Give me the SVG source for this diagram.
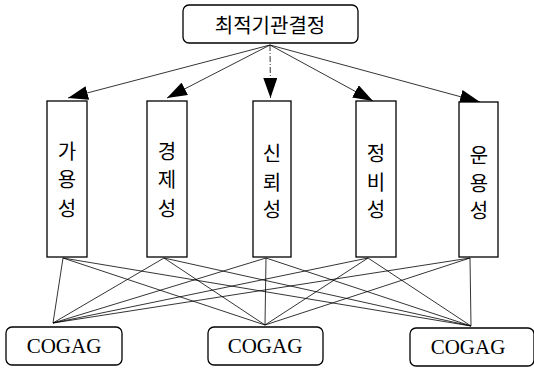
<svg xmlns="http://www.w3.org/2000/svg" width="534" height="368" viewBox="0 0 534 368">
<style>
.box{fill:#fff;stroke:#000;stroke-width:1.3}
.ln{stroke:#000;stroke-width:0.8;fill:none}
.ko{font-family:"Noto Sans CJK KR","Noto Sans",sans-serif;font-size:20px;fill:#000;text-anchor:middle;dominant-baseline:central}
.en{font-family:"Liberation Serif","Times New Roman",serif;font-size:21px;fill:#000;text-anchor:middle;dominant-baseline:central}
</style>
<defs>
<marker id="ah" markerUnits="userSpaceOnUse" markerWidth="22" markerHeight="14" refX="20" refY="7" orient="auto">
<path d="M0,0 L20,7 L0,14 Z" fill="#000"/>
</marker>
</defs>
<rect width="534" height="368" fill="#fff"/>
<g id="connectors">
<line class="ln" x1="270" y1="45" x2="68" y2="98" marker-end="url(#ah)"/>
<line class="ln" x1="270" y1="45" x2="167" y2="98" marker-end="url(#ah)"/>
<line class="ln" x1="270" y1="45" x2="270.5" y2="98" stroke-dasharray="6 2 1 2" marker-end="url(#ah)"/>
<line class="ln" x1="270" y1="45" x2="373" y2="101" marker-end="url(#ah)"/>
<line class="ln" x1="270" y1="45" x2="480" y2="102" marker-end="url(#ah)"/>
<g class="ln">
<path d="M63,258 L53,323 M63,258 L265,325 M63,258 L471,326"/>
<path d="M164,258 L53,323 M164,258 L265,325 M164,258 L471,326"/>
<path d="M266,258 L53,323 M266,258 L265,325 M266,258 L471,326"/>
<path d="M368,258 L53,323 M368,258 L265,325 M368,258 L471,326"/>
<path d="M470,258 L53,323 M470,258 L265,325 M470,258 L471,326"/>
</g>
</g>
<g id="top">
<rect class="box" x="183" y="5" width="175" height="38" rx="6"/>
<text class="ko" x="270" y="24">최적기관결정</text>
</g>
<g id="n1">
<rect class="box" x="47" y="101" width="40" height="156"/>
<text class="ko" x="67" y="150">가</text><text class="ko" x="67" y="178">용</text><text class="ko" x="67" y="207">성</text>
</g>
<g id="n2">
<rect class="box" x="147" y="101" width="40" height="156"/>
<text class="ko" x="167" y="150">경</text><text class="ko" x="167" y="178">제</text><text class="ko" x="167" y="207">성</text>
</g>
<g id="n3">
<rect class="box" x="253" y="101" width="38" height="156"/>
<text class="ko" x="272" y="152">신</text><text class="ko" x="272" y="181">뢰</text><text class="ko" x="272" y="208">성</text>
</g>
<g id="n4">
<rect class="box" x="356" y="101" width="40" height="156"/>
<text class="ko" x="376" y="152">정</text><text class="ko" x="376" y="181">비</text><text class="ko" x="376" y="208">성</text>
</g>
<g id="n5">
<rect class="box" x="459" y="102" width="39" height="155"/>
<text class="ko" x="479" y="154">운</text><text class="ko" x="479" y="182">용</text><text class="ko" x="479" y="209">성</text>
</g>
<g id="c1">
<rect class="box" x="6" y="327" width="116" height="38" rx="6"/>
<text class="en" x="64" y="346">COGAG</text>
</g>
<g id="c2">
<rect class="box" x="208" y="327" width="115" height="38" rx="6"/>
<text class="en" x="265" y="346">COGAG</text>
</g>
<g id="c3">
<rect class="box" x="410" y="328" width="124" height="38" rx="6"/>
<text class="en" x="468" y="347">COGAG</text>
</g>
</svg>
